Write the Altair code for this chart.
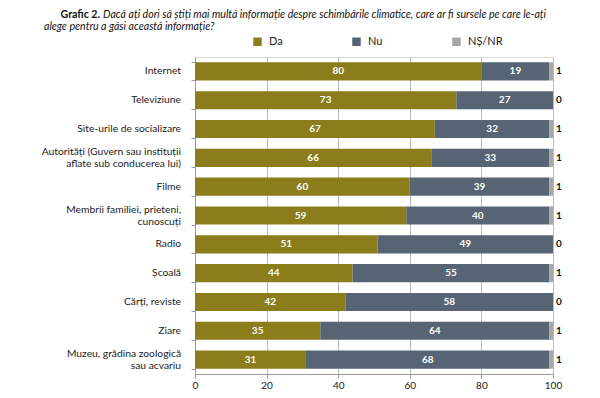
import altair as alt
import pandas as pd

categories = [
    "Internet",
    "Televiziune",
    "Site-urile de socializare",
    "Autorități (Guvern sau instituții|aflate sub conducerea lui)",
    "Filme",
    "Membrii familiei, prieteni,|cunoscuți",
    "Radio",
    "Școală",
    "Cărți, reviste",
    "Ziare",
    "Muzeu, grădina zoologică|sau acvariu",
]
da = [80, 73, 67, 66, 60, 59, 51, 44, 42, 35, 31]
nu = [19, 27, 32, 33, 39, 40, 49, 55, 58, 64, 68]
nsnr = [1, 0, 1, 1, 1, 1, 0, 1, 0, 1, 1]

responses = ["Da", "Nu", "NȘ/NR"]
colors = ["#8C7D1C", "#566473", "#A6A6A6"]

rows = []
for i, c in enumerate(categories):
    for j, (r, v) in enumerate(zip(responses, [da[i], nu[i], nsnr[i]])):
        rows.append({"category": c, "response": r, "value": v, "order": j})
df = pd.DataFrame(rows)

lab_rows = []
for c in categories:
    parts = c.split("|")
    lab_rows.append({"category": c, "l1": parts[0], "l2": parts[1] if len(parts) > 1 else ""})
ldf = pd.DataFrame(lab_rows)

FONT = "Lato"
Y_SORT = categories

base = alt.Chart(df).transform_stack(
    stack="value", as_=["x0", "x1"], groupby=["category"], sort=[alt.SortField("order")]
).transform_calculate(mid="(datum.x0 + datum.x1) / 2")

y_enc = alt.Y(
    "category:N",
    sort=Y_SORT,
    scale=alt.Scale(paddingInner=0.37, paddingOuter=0.185),
    axis=alt.Axis(
        title=None,
        labels=False,
        tickBand="extent",
        tickSize=4,
        tickColor="#999999",
        domainColor="#999999",
        grid=False,
    ),
)

bars = base.mark_bar().encode(
    x=alt.X(
        "x0:Q",
        scale=alt.Scale(domain=[0, 100], nice=False),
        axis=alt.Axis(
            title=None,
            values=[0, 20, 40, 60, 80, 100],
            labelFlush=False,
            labelFont=FONT,
            labelFontSize=10,
            labelColor="#222222",
            gridColor="#BBBBBB",
            tickColor="#999999",
            domainColor="#999999",
            tickSize=4,
            labelPadding=2,
        ),
    ),
    x2="x1:Q",
    y=y_enc,
    color=alt.Color(
        "response:N",
        scale=alt.Scale(domain=responses, range=colors),
        legend=alt.Legend(
            title=None,
            orient="none",
            direction="horizontal",
            legendX=57,
            legendY=-21,
            gridAlign="each",
            symbolType="square",
            symbolSize=72,
            symbolStrokeWidth=0,
            labelFont=FONT,
            labelFontSize=11,
            labelColor="#222222",
            columnPadding=68,
            labelOffset=6,
        ),
    ),
    order=alt.Order("order:Q"),
)

inner = base.transform_filter("datum.response != 'NȘ/NR'").mark_text(
    color="white", font=FONT, fontSize=10, fontWeight="bold"
).encode(
    x="mid:Q",
    y=alt.Y("category:N", sort=Y_SORT),
    text="value:Q",
)

outer = base.transform_filter("datum.response == 'NȘ/NR'").mark_text(
    color="#111111", font=FONT, fontSize=10, fontWeight="bold", align="left", dx=3
).encode(
    x=alt.datum(100),
    y=alt.Y("category:N", sort=Y_SORT),
    text="value:Q",
)

lab_base = alt.Chart(ldf)
lab_kw = dict(font=FONT, fontSize=10.3, color="#222222", align="right", baseline="middle")
lab_single = lab_base.transform_filter("datum.l2 == ''").mark_text(**lab_kw).encode(
    x=alt.value(-14), y=alt.Y("category:N", sort=Y_SORT), text="l1:N"
)
lab_top = lab_base.transform_filter("datum.l2 != ''").mark_text(dy=-6, **lab_kw).encode(
    x=alt.value(-14), y=alt.Y("category:N", sort=Y_SORT), text="l1:N"
)
lab_bot = lab_base.transform_filter("datum.l2 != ''").mark_text(dy=6, **lab_kw).encode(
    x=alt.value(-14), y=alt.Y("category:N", sort=Y_SORT), text="l2:N"
)

tdf = pd.DataFrame({"a": [0]})
t_bold = alt.Chart(tdf).mark_text(
    text="Grafic 2.", font=FONT, fontSize=10.6, fontWeight="bold", align="right", baseline="alphabetic", color="#111111"
).encode(x=alt.value(-95), y=alt.value(-39))
t_l1 = alt.Chart(tdf).mark_text(
    text="Dacă ați dori să știți mai multă informație despre schimbările climatice, care ar fi sursele pe care le-ați",
    font=FONT, fontSize=10.6, fontStyle="italic", align="left", baseline="alphabetic", color="#111111",
).encode(x=alt.value(-92), y=alt.value(-39))
t_l2 = alt.Chart(tdf).mark_text(
    text="alege pentru a găsi această informație?",
    font=FONT, fontSize=10.6, fontStyle="italic", align="left", baseline="alphabetic", color="#111111",
).encode(x=alt.value(-151), y=alt.value(-27))

chart = alt.layer(
    bars, inner, outer, lab_single, lab_top, lab_bot, t_bold, t_l1, t_l2
).properties(
    width=358,
    height=317,
    autosize=alt.AutoSizeParams(type="none"),
    padding={"left": 187, "top": 49, "right": 38, "bottom": 16},
).configure_view(stroke=None).configure(background="white")

chart.save("out.html", embed_options={"renderer": "svg", "actions": False})
